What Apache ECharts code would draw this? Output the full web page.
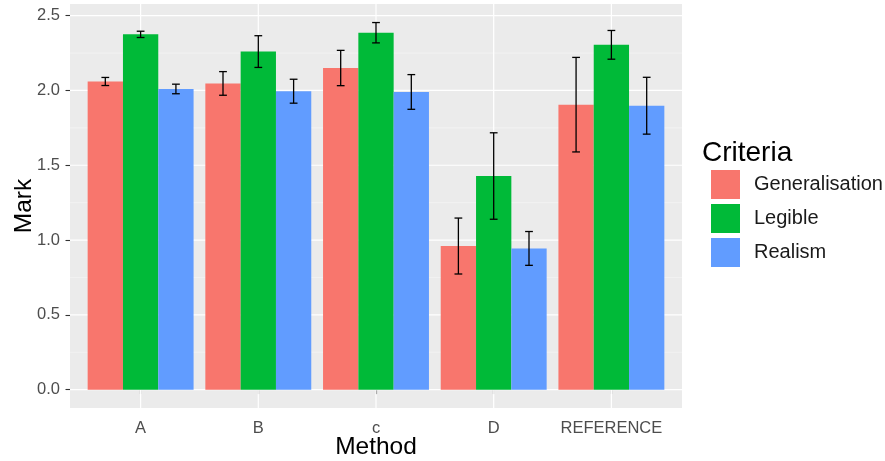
<!DOCTYPE html>
<html>
<head>
<meta charset="utf-8">
<script src="https://cdn.jsdelivr.net/npm/echarts@6/dist/echarts.min.js"></script>
<style>
  html, body { margin: 0; padding: 0; background: #ffffff; }
  #chart { width: 885px; height: 461px; }
</style>
</head>
<body>
<div id="chart"></div>
<script>
// ---- data ----
const categories = ['A', 'B', 'c', 'D', 'REFERENCE'];
const criteria = ['Generalisation', 'Legible', 'Realism'];
const genMean  = [2.06, 2.047, 2.15, 0.96, 1.905];
const genErr   = [0.027, 0.079, 0.118, 0.187, 0.316];
const legMean  = [2.375, 2.26, 2.386, 1.428, 2.305];
const legErr   = [0.021, 0.106, 0.068, 0.289, 0.096];
const realMean = [2.01, 1.995, 1.99, 0.944, 1.898];
const realErr  = [0.032, 0.08, 0.116, 0.113, 0.19];
const yTicks = [0, 0.5, 1, 1.5, 2, 2.5];
const yMinor = [0.25, 0.75, 1.25, 1.75, 2.25];

const colors = ['#F8766D', '#00BA38', '#619CFF'];
const means = [genMean, legMean, realMean];
const errs = [genErr, legErr, realErr];
const catPos = categories.map((c, i) => i + 1);
const FONT = 'Liberation Sans, Arial, sans-serif';

const chart = echarts.init(document.getElementById('chart'), null, { renderer: 'canvas' });

function gridLineSeries(values, horizontal, width, color) {
  return {
    type: 'custom',
    silent: true,
    z: 1,
    data: values.map(v => [v]),
    renderItem: function (params, api) {
      const cs = params.coordSys;
      const v = values[params.dataIndex];
      let shape;
      if (horizontal) {
        const p = api.coord([1, v]);
        shape = { x1: cs.x, y1: p[1], x2: cs.x + cs.width, y2: p[1] };
      } else {
        const p = api.coord([v, 0]);
        shape = { x1: p[0], y1: cs.y, x2: p[0], y2: cs.y + cs.height };
      }
      return { type: 'line', shape: shape, style: { stroke: color, lineWidth: width } };
    }
  };
}

function barSeries(k) {
  const m = means[k], e = errs[k];
  return {
    name: criteria[k],
    type: 'custom',
    z: 3,
    itemStyle: { color: colors[k] },
    data: catPos.map((c, i) => [c, m[i]]),
    renderItem: function (params, api) {
      const i = params.dataIndex;
      const c = catPos[i];
      const x0 = c - 0.45 + k * 0.3, x1 = x0 + 0.3, xm = x0 + 0.15;
      const pTop = api.coord([x0, m[i]]);
      const pBot = api.coord([x1, 0]);
      const hi = api.coord([xm, m[i] + e[i]]);
      const lo = api.coord([xm, m[i] - e[i]]);
      const capL = api.coord([xm - 0.033, 0])[0];
      const capR = api.coord([xm + 0.033, 0])[0];
      const ls = { stroke: '#000000', lineWidth: 1.3 };
      return {
        type: 'group',
        children: [
          { type: 'rect', shape: { x: pTop[0], y: pTop[1], width: pBot[0] - pTop[0], height: pBot[1] - pTop[1] },
            style: { fill: colors[k] } },
          { type: 'line', shape: { x1: hi[0], y1: hi[1], x2: lo[0], y2: lo[1] }, style: ls },
          { type: 'line', shape: { x1: capL, y1: hi[1], x2: capR, y2: hi[1] }, style: ls },
          { type: 'line', shape: { x1: capL, y1: lo[1], x2: capR, y2: lo[1] }, style: ls }
        ]
      };
    }
  };
}

const option = {
  backgroundColor: '#ffffff',
  animation: false,
  textStyle: { fontFamily: FONT },
  grid: { left: 70, right: 203, top: 4, bottom: 53, show: true, backgroundColor: '#EBEBEB', borderWidth: 0,
          containLabel: false, outerBoundsMode: 'none' },
  xAxis: {
    type: 'value',
    min: 0.4, max: 5.6,
    name: 'Method',
    nameLocation: 'middle',
    nameGap: 27,
    nameMoveOverlap: false,
    nameTextStyle: { fontSize: 24.5, color: '#000000', fontFamily: FONT },
    axisLine: { show: false },
    splitLine: { show: false },
    axisTick: { show: true, customValues: catPos, length: 4.5, lineStyle: { color: '#333333', width: 1.1 } },
    axisLabel: {
      customValues: catPos,
      formatter: function (v) { return categories[Math.round(v) - 1]; },
      fontSize: 16.5, color: '#4D4D4D', margin: 12
    }
  },
  yAxis: {
    type: 'value',
    min: -0.1228, max: 2.578,
    name: 'Mark',
    nameLocation: 'middle',
    nameRotate: 90,
    nameGap: 33,
    nameMoveOverlap: false,
    nameTextStyle: { fontSize: 24.5, color: '#000000', fontFamily: FONT },
    axisLine: { show: false },
    splitLine: { show: false },
    axisTick: { show: true, customValues: yTicks, length: 4.5, lineStyle: { color: '#333333', width: 1.1 } },
    axisLabel: {
      customValues: yTicks,
      formatter: function (v) { return Number(v).toFixed(1); },
      fontSize: 16.5, color: '#4D4D4D', margin: 10
    }
  },
  legend: {
    data: criteria.map((n, k) => ({ name: n, itemStyle: { color: colors[k] } })),
    orient: 'vertical',
    left: 706, top: 165,
    icon: 'rect',
    itemWidth: 29, itemHeight: 29, itemGap: 5,
    selectedMode: false,
    textStyle: { fontSize: 20, color: '#1A1A1A', padding: [0, 0, 0, 9] }
  },
  graphic: [
    { type: 'text', left: 702, top: 139,
      style: { text: 'Criteria', fontSize: 28, fill: '#000000', fontFamily: FONT } }
  ],
  series: [
    gridLineSeries(yMinor, true, 0.6, '#F7F7F7'),
    gridLineSeries(yTicks, true, 1.2, '#FFFFFF'),
    gridLineSeries(catPos, false, 1.2, '#FFFFFF'),
    barSeries(0), barSeries(1), barSeries(2)
  ]
};
chart.setOption(option);
</script>
</body>
</html>
